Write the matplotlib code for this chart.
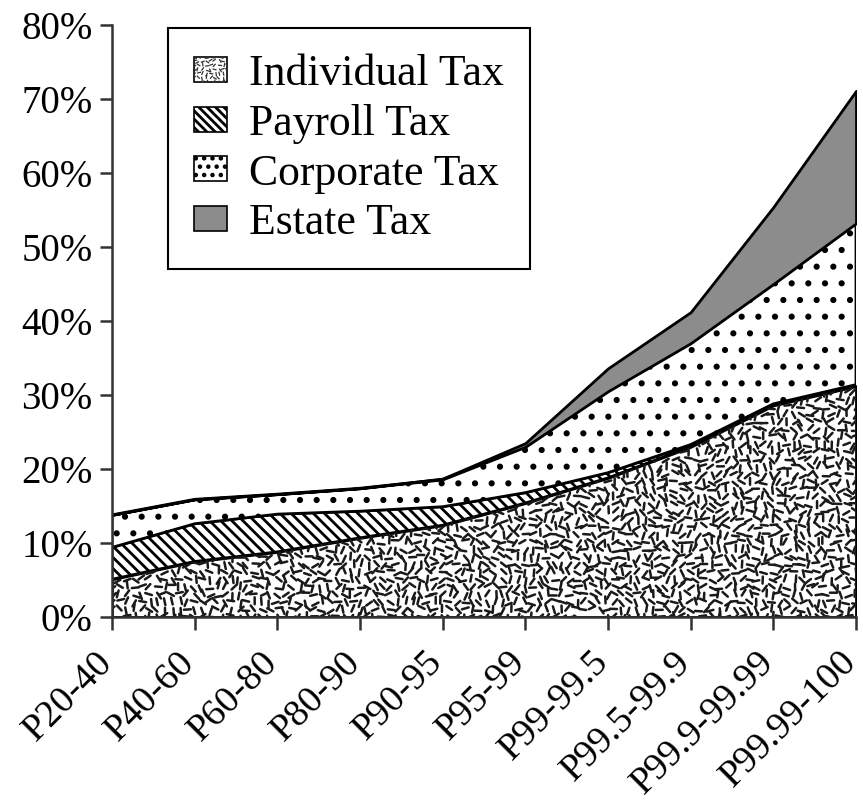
import numpy as np
import matplotlib.pyplot as plt
from matplotlib.collections import LineCollection
from matplotlib.patches import Rectangle
from matplotlib.legend_handler import HandlerBase
from matplotlib.transforms import IdentityTransform, ScaledTranslation

# groups of the income distribution
groups = ['P20-40', 'P40-60', 'P60-80', 'P80-90', 'P90-95', 'P95-99',
          'P99-99.5', 'P99.5-99.9', 'P99.9-99.99', 'P99.99-100']

# tax rates by component (percent of income)
individual = [5.1, 7.5, 8.8, 10.7, 12.4, 15.4, 18.8, 23.0, 28.6, 31.2]
payroll = [4.3, 5.1, 5.1, 3.6, 2.5, 1.4, 0.7, 0.3, 0.2, 0.2]
corporate = [4.4, 3.3, 2.7, 3.1, 3.7, 6.2, 11.0, 13.7, 16.2, 21.8]
estate = [0.0, 0.0, 0.0, 0.0, 0.1, 0.5, 3.1, 4.2, 10.4, 17.9]

yticks = [0, 10, 20, 30, 40, 50, 60, 70, 80]

plt.rcParams['font.family'] = ['Liberation Serif', 'DejaVu Serif']
plt.rcParams['hatch.linewidth'] = 2.0


def _frac(v):
    return v - np.floor(v)


def dash_texture(x0, y0, w, h, step, length):
    # short strokes in scattered directions, like the printed texture
    segs = []
    for i in range(int(w / step) + 2):
        for j in range(int(h / step) + 2):
            r1 = _frac(np.sin(i * 12.9898 + j * 78.233) * 43758.5453)
            r2 = _frac(np.sin(i * 39.3468 + j * 11.135) * 24634.6345)
            r3 = _frac(np.sin(i * 73.156 + j * 52.235) * 15731.7431)
            a = r1 * np.pi
            cx = x0 + i * step + (r2 - 0.5) * step * 0.6
            cy = y0 + j * step + (r3 - 0.5) * step * 0.6
            ox = 0.5 * length * np.cos(a)
            oy = 0.5 * length * np.sin(a)
            segs.append([(cx - ox, cy - oy), (cx + ox, cy + oy)])
    return segs


class TextureHandler(HandlerBase):
    def create_artists(self, legend, orig_handle, xdescent, ydescent,
                       width, height, fontsize, trans):
        rect = Rectangle((-xdescent, -ydescent), width, height,
                         facecolor='white', edgecolor='black', lw=1.2,
                         transform=trans)
        segs = dash_texture(-xdescent, -ydescent, width, height, 3.0, 3.0)
        lc = LineCollection(segs, colors='#333333', linewidths=0.9,
                            transform=trans)
        lc.set_clip_path(rect)
        return [rect, lc]


fig = plt.figure(figsize=(8.63, 8.05), dpi=100)
ax = fig.add_axes([112 / 863, 188 / 805, 744 / 863, 592 / 805])

x = np.arange(len(groups))
b1 = np.array(individual)
b2 = b1 + np.array(payroll)
b3 = b2 + np.array(corporate)
b4 = b3 + np.array(estate)

p_ind = ax.fill_between(x, 0, b1, facecolor='white', edgecolor='black', lw=2)
ax.fill_between(x, b1, b2, facecolor='white', edgecolor='black',
                hatch='\\\\\\', lw=2)
ax.fill_between(x, b2, b3, facecolor='white', edgecolor='black',
                hatch='.', lw=2)
ax.fill_between(x, b3, b4, facecolor='#8c8c8c', edgecolor='black', lw=2)

ax.set_xlim(0, len(groups) - 1)
ax.set_ylim(0, 80)

# texture for the individual tax layer, clipped to that layer
segs = dash_texture(112, 188, 744, 260, 7.5, 7)
lc = LineCollection(segs, colors='#1a1a1a', linewidths=1.8,
                    capstyle='round', transform=IdentityTransform())
lc.set_clip_path(p_ind.get_paths()[0], ax.transData)
ax.add_collection(lc)

ax.set_yticks(yticks)
ax.set_yticklabels([f'{t}%' for t in yticks])
ax.set_xticks(x)
ax.set_xticklabels(groups, rotation=45, ha='right', va='center',
                   rotation_mode='anchor')
ax.tick_params(axis='both', labelsize=28, direction='out', length=9,
               width=1.8, color='#333333')
ax.tick_params(axis='y', pad=5)
ax.tick_params(axis='x', pad=14, labelsize=27.5)
shift = ScaledTranslation(-5 / 100, -8 / 100, fig.dpi_scale_trans)
for lab in ax.get_xticklabels():
    lab.set_transform(lab.get_transform() + shift)

ax.spines['top'].set_visible(False)
ax.spines['right'].set_visible(False)
for s in ['left', 'bottom']:
    ax.spines[s].set_linewidth(1.8)
    ax.spines[s].set_color('#333333')

handles = [
    Rectangle((0, 0), 1, 1, facecolor='white', edgecolor='black'),
    Rectangle((0, 0), 1, 1, facecolor='white', edgecolor='black',
              hatch='\\\\\\\\', lw=1.2),
    Rectangle((0, 0), 1, 1, facecolor='white', edgecolor='black',
              hatch='..', lw=1.2),
    Rectangle((0, 0), 1, 1, facecolor='#8c8c8c', edgecolor='black', lw=1.2),
]
labels = ['Individual Tax', 'Payroll Tax', 'Corporate Tax', 'Estate Tax']
leg = ax.legend(handles, labels, loc='upper left',
                bbox_to_anchor=(168 / 863, 1 - 28 / 805),
                bbox_transform=fig.transFigure, borderaxespad=0,
                fontsize=31.5, fancybox=False, framealpha=1,
                edgecolor='black', handlelength=0.75, handleheight=0.5,
                handletextpad=0.5, labelspacing=0.22, borderpad=0.6,
                handler_map={handles[0]: TextureHandler()})
leg.get_frame().set_linewidth(1.5)

fig.savefig('out.png', dpi=100)
